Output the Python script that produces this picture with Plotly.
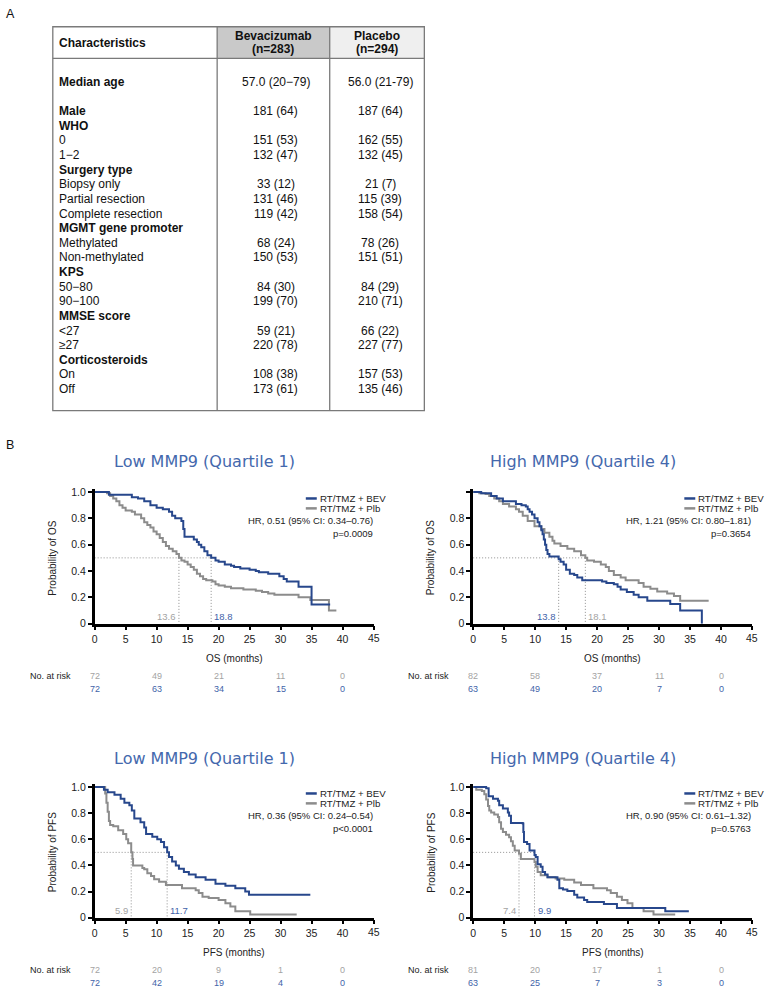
import plotly.graph_objects as go

W, H = 766, 993
def px(x):
    return x / W
def py(y):
    return 1 - y / H

# ---------------- Panel A: baseline characteristics table ----------------
table_header = "Characteristics"
bev_header = ["Bevacizumab", "(n=283)"]
plb_header = ["Placebo", "(n=294)"]
row_labels = ["Median age", "Male", "WHO", "0", "1−2", "Surgery type", "Biopsy only",
              "Partial resection", "Complete resection", "MGMT gene promoter", "Methylated",
              "Non-methylated", "KPS", "50−80", "90−100", "MMSE score", "<27", "≥27",
              "Corticosteroids", "On", "Off"]
bev_values = ["57.0 (20−79)", "181 (64)", "", "151 (53)", "132 (47)", "", "33 (12)", "131 (46)",
              "119 (42)", "", "68 (24)", "150 (53)", "", "84 (30)", "199 (70)", "", "59 (21)",
              "220 (78)", "", "108 (38)", "173 (61)"]
plb_values = ["56.0 (21-79)", "187 (64)", "", "162 (55)", "132 (45)", "", "21 (7)", "115 (39)",
              "158 (54)", "", "78 (26)", "151 (51)", "", "84 (29)", "210 (71)", "", "66 (22)",
              "227 (77)", "", "157 (53)", "135 (46)"]
bold_rows = ["Median age", "Male", "WHO", "Surgery type", "MGMT gene promoter", "KPS",
             "MMSE score", "Corticosteroids"]

# ---------------- Panel B: Kaplan-Meier data ----------------
panel_titles = ["Low MMP9 (Quartile 1)", "High MMP9 (Quartile 4)",
                "Low MMP9 (Quartile 1)", "High MMP9 (Quartile 4)"]
endpoints = ["OS", "OS", "PFS", "PFS"]
hr_texts = ["HR, 0.51 (95% CI: 0.34–0.76)", "HR, 1.21 (95% CI: 0.80–1.81)",
            "HR, 0.36 (95% CI: 0.24–0.54)", "HR, 0.90 (95% CI: 0.61–1.32)"]
p_texts = ["p=0.0009", "p=0.3654", "p<0.0001", "p=0.5763"]
median_bev = [18.8, 13.8, 11.7, 9.9]
median_plb = [13.6, 18.1, 5.9, 7.4]
risk_times = [0, 10, 20, 30, 40]
risk_plb = [[72, 49, 21, 11, 0], [82, 58, 37, 11, 0], [72, 20, 9, 1, 0], [81, 20, 17, 1, 0]]
risk_bev = [[72, 63, 34, 15, 0], [63, 49, 20, 7, 0], [72, 42, 19, 4, 0], [63, 25, 7, 3, 0]]
x_ticks = [0, 5, 10, 15, 20, 25, 30, 35, 40, 45]
y_ticks = [0, 0.2, 0.4, 0.6, 0.8, 1.0]
y_ticklabels = ["0", "0.2", "0.4", "0.6", "0.8", "1.0"]

os_low_bev_t = [0, 2.3, 6.0, 7.0, 8.0, 9.0, 10.0, 11.0, 12.0, 12.5, 13.0, 14.0, 14.3, 14.5, 16.0,
                16.5, 16.8, 17.2, 17.7, 18.2, 18.8, 19.5, 20.0, 21.0, 22.0, 22.5, 23.5, 25.0, 26.0,
                26.5, 28.0, 29.8, 30.5, 31.0, 32.9, 35.0, 38.0]
os_low_bev_s = [1.0, 0.98, 0.96, 0.95, 0.93, 0.90, 0.88, 0.87, 0.85, 0.82, 0.80, 0.78, 0.72, 0.66,
                0.64, 0.62, 0.60, 0.58, 0.55, 0.52, 0.50, 0.48, 0.47, 0.45, 0.44, 0.43, 0.42, 0.41,
                0.40, 0.39, 0.38, 0.36, 0.34, 0.32, 0.28, 0.145, 0.145]
os_low_plb_t = [0, 2.0, 2.5, 3.0, 3.5, 4.0, 4.5, 5.0, 6.0, 6.5, 7.5, 8.0, 8.5, 9.0, 9.5, 10.0, 10.5,
                11.0, 11.5, 12.0, 12.6, 13.2, 13.6, 14.0, 14.5, 15.0, 15.5, 16.0, 16.5, 17.0, 17.5,
                18.0, 19.0, 19.5, 20.0, 21.0, 22.0, 24.0, 26.0, 27.0, 28.0, 29.0, 32.9, 34.8, 37.8, 39.0]
os_low_plb_s = [1.0, 0.99, 0.97, 0.95, 0.93, 0.90, 0.88, 0.86, 0.85, 0.83, 0.80, 0.77, 0.75, 0.73,
                0.70, 0.68, 0.65, 0.62, 0.59, 0.57, 0.55, 0.53, 0.50, 0.48, 0.47, 0.45, 0.43, 0.41,
                0.38, 0.36, 0.34, 0.33, 0.32, 0.30, 0.29, 0.28, 0.27, 0.26, 0.25, 0.24, 0.23, 0.22,
                0.20, 0.18, 0.10, 0.10]

os_high_bev_t = [0, 1.3, 2.9, 3.8, 4.8, 6.9, 7.8, 8.5, 8.8, 9.1, 9.5, 9.9, 10.4, 10.7, 11.0, 11.2,
                 11.4, 11.6, 11.8, 12.0, 12.3, 13.8, 14.1, 14.6, 15.0, 15.6, 16.3, 16.8, 17.6, 20.8,
                 21.5, 22.7, 23.3, 23.8, 24.8, 25.9, 26.7, 28.1, 31.8, 33.4, 36.9]
os_high_bev_s = [1.0, 0.99, 0.97, 0.95, 0.93, 0.91, 0.90, 0.89, 0.87, 0.85, 0.83, 0.80, 0.77, 0.74,
                 0.71, 0.68, 0.64, 0.60, 0.56, 0.53, 0.51, 0.49, 0.47, 0.45, 0.41, 0.38, 0.37, 0.35,
                 0.33, 0.32, 0.31, 0.30, 0.28, 0.26, 0.24, 0.22, 0.20, 0.175, 0.15, 0.10, 0.0]
os_high_plb_t = [0, 1.0, 2.0, 2.6, 3.4, 4.2, 4.8, 5.8, 6.9, 7.4, 8.0, 8.8, 9.9, 11.0, 11.5, 12.3,
                 12.8, 13.1, 14.1, 15.2, 16.3, 17.4, 18.1, 18.4, 19.5, 20.6, 21.4, 21.9, 22.7, 23.8,
                 24.6, 26.7, 27.5, 28.6, 29.7, 31.3, 32.4, 33.4, 38.0]
os_high_plb_s = [1.0, 0.99, 0.985, 0.97, 0.95, 0.93, 0.91, 0.89, 0.87, 0.85, 0.82, 0.78, 0.74, 0.72,
                 0.69, 0.66, 0.63, 0.61, 0.59, 0.57, 0.55, 0.52, 0.50, 0.48, 0.47, 0.45, 0.43, 0.40,
                 0.37, 0.35, 0.33, 0.31, 0.28, 0.265, 0.245, 0.23, 0.21, 0.175, 0.175]

pfs_low_bev_t = [0, 1.5, 2.1, 3.2, 4.2, 4.8, 5.6, 6.0, 6.4, 7.4, 8.0, 8.3, 9.3, 10.1, 10.7, 11.2,
                 11.7, 12.0, 12.5, 13.1, 13.6, 14.4, 15.2, 16.3, 17.9, 19.5, 21.1, 22.7, 24.3, 24.9,
                 34.8]
pfs_low_bev_s = [1.0, 0.98, 0.96, 0.94, 0.91, 0.88, 0.86, 0.82, 0.76, 0.73, 0.69, 0.64, 0.62, 0.60,
                 0.58, 0.54, 0.50, 0.465, 0.43, 0.40, 0.375, 0.35, 0.33, 0.31, 0.29, 0.26, 0.245,
                 0.225, 0.20, 0.175, 0.175]
pfs_low_plb_t = [0, 1.7, 1.9, 2.1, 2.3, 2.5, 3.0, 3.8, 4.6, 5.1, 5.4, 5.9, 6.1, 6.2, 7.7, 8.0, 8.5,
                 9.1, 9.6, 10.4, 11.5, 14.1, 16.3, 16.8, 17.4, 18.4, 20.0, 21.1, 21.9, 22.7, 25.1,
                 32.6]
pfs_low_plb_s = [1.0, 0.95, 0.88, 0.81, 0.74, 0.71, 0.70, 0.67, 0.64, 0.60, 0.57, 0.50, 0.45, 0.40,
                 0.38, 0.37, 0.34, 0.32, 0.295, 0.275, 0.25, 0.225, 0.21, 0.19, 0.16, 0.15, 0.135,
                 0.11, 0.085, 0.05, 0.025, 0.025]

pfs_high_bev_t = [0, 2.1, 2.5, 3.2, 4.0, 4.2, 4.8, 5.6, 5.8, 6.1, 8.0, 8.1, 8.2, 8.7, 9.1, 9.9,
                  10.1, 10.4, 10.9, 11.2, 11.6, 12.0, 13.6, 13.9, 14.5, 15.2, 16.3, 16.8, 17.9,
                  18.4, 21.1, 23.2, 31.0, 34.8]
pfs_high_bev_s = [1.0, 0.99, 0.93, 0.91, 0.895, 0.86, 0.835, 0.805, 0.78, 0.725, 0.72, 0.655, 0.58,
                  0.565, 0.515, 0.48, 0.465, 0.41, 0.39, 0.35, 0.33, 0.31, 0.29, 0.225, 0.215,
                  0.205, 0.175, 0.155, 0.135, 0.12, 0.105, 0.075, 0.05, 0.05]
pfs_high_plb_t = [0, 0.5, 1.4, 1.8, 2.1, 2.4, 2.6, 2.9, 3.4, 4.0, 4.2, 4.5, 4.8, 5.3, 5.8, 6.1, 6.4,
                  6.7, 7.4, 7.7, 9.9, 10.1, 10.4, 10.9, 12.0, 13.3, 14.7, 16.3, 17.4, 19.4, 21.6,
                  22.2, 23.2, 24.0, 24.9, 25.7, 27.5, 29.1, 32.6]
pfs_high_plb_s = [1.0, 0.98, 0.97, 0.945, 0.905, 0.855, 0.82, 0.805, 0.79, 0.77, 0.73, 0.68, 0.655,
                  0.635, 0.615, 0.585, 0.55, 0.515, 0.49, 0.45, 0.427, 0.39, 0.35, 0.325, 0.31,
                  0.30, 0.29, 0.27, 0.25, 0.225, 0.21, 0.19, 0.16, 0.135, 0.11, 0.075, 0.05, 0.025,
                  0.025]

curves_bev = [(os_low_bev_t, os_low_bev_s), (os_high_bev_t, os_high_bev_s),
              (pfs_low_bev_t, pfs_low_bev_s), (pfs_high_bev_t, pfs_high_bev_s)]
curves_plb = [(os_low_plb_t, os_low_plb_s), (os_high_plb_t, os_high_plb_s),
              (pfs_low_plb_t, pfs_low_plb_s), (pfs_high_plb_t, pfs_high_plb_s)]

# ---------------- styling ----------------
BEV = "#27478c"
PLB = "#8c8c8c"
BEV_TXT = "#3f63a9"
PLB_TXT = "#a3a3a3"
TITLE_C = "#4468ad"
ARIAL = "Liberation Sans, Arial, sans-serif"
VERD = "DejaVu Sans, Verdana, sans-serif"

# pixel geometry of the four plot areas
ax_x0 = [92, 472, 92, 472]
ax_x1 = [372, 752, 372, 752]
zero_y = [626, 626, 923, 923]
unit_px = [133, 133, 132, 132]
YMAX = 1.02

fig = go.Figure()
shapes = []
ann = []

# ---- table drawing ----
T_L, T_R, T_T, T_B = 50, 423, 23, 410.7
C1, C2 = 215, 328
HDR_B = 55
shapes.append(dict(type="rect", xref="paper", yref="paper", x0=px(C1), x1=px(C2), y0=py(HDR_B), y1=py(T_T),
                   fillcolor="#c9c9c9", line=dict(width=0), layer="below"))
shapes.append(dict(type="rect", xref="paper", yref="paper", x0=px(C2), x1=px(T_R), y0=py(HDR_B), y1=py(T_T),
                   fillcolor="#efefef", line=dict(width=0), layer="below"))
shapes.append(dict(type="rect", xref="paper", yref="paper", x0=px(T_L), x1=px(T_R), y0=py(T_B), y1=py(T_T),
                   line=dict(color="#7a7a7a", width=1.3)))
shapes.append(dict(type="line", xref="paper", yref="paper", x0=px(T_L), x1=px(T_R), y0=py(HDR_B), y1=py(HDR_B),
                   line=dict(color="#7a7a7a", width=1.3)))
for cx in (C1, C2):
    shapes.append(dict(type="line", xref="paper", yref="paper", x0=px(cx), x1=px(cx), y0=py(T_B), y1=py(T_T),
                       line=dict(color="#7a7a7a", width=1.3)))

def tann(text, x, y, anchor="left", bold=False, size=12, color="#111"):
    t = text.replace("<", "&lt;")
    if bold:
        t = "<b>" + t + "</b>"
    ann.append(dict(text=t, x=px(x), y=py(y), xref="paper", yref="paper", xanchor=anchor, yanchor="middle",
                    showarrow=False, borderpad=0, borderwidth=0,
                    font=dict(family=ARIAL, size=size, color=color)))

tann("A", 3, 10, size=12.5)
tann("B", 3, 445.5, size=12.5)
tann(table_header, 56.5, 39, bold=True)
tann(bev_header[0], 271.5, 32, anchor="center", bold=True)
tann(bev_header[1], 271.5, 45.5, anchor="center", bold=True)
tann(plb_header[0], 375.5, 32, anchor="center", bold=True)
tann(plb_header[1], 375.5, 45.5, anchor="center", bold=True)
for i, lab in enumerate(row_labels):
    yy = 79 if i == 0 else 108.3 + (i - 1) * 14.77
    tann(lab, 56.5, yy, bold=lab in bold_rows)
    if bev_values[i]:
        tann(bev_values[i], 274, yy, anchor="center")
    if plb_values[i]:
        tann(plb_values[i], 378.5, yy, anchor="center")

# ---- KM panels ----
layout_axes = {}
for k in range(4):
    xa = "x" if k == 0 else f"x{k+1}"
    ya = "y" if k == 0 else f"y{k+1}"
    xn = "xaxis" if k == 0 else f"xaxis{k+1}"
    yn = "yaxis" if k == 0 else f"yaxis{k+1}"
    x0, x1, y0, u = ax_x0[k], ax_x1[k], zero_y[k], unit_px[k]
    ytop = y0 - u * YMAX
    ylabels = list(y_ticklabels)
    if k == 1:
        ylabels[-1] = ""
    layout_axes[xn] = dict(domain=[px(x0), px(x1)], range=[0, 45], anchor=ya, tickvals=x_ticks,
                           ticktext=[str(v) if v != 45 else "" for v in x_ticks],
                           showline=True, linecolor="black", linewidth=2.5, ticks="outside", ticklen=4,
                           tickwidth=2, tickcolor="black", showgrid=False, zeroline=False,
                           tickfont=dict(family=ARIAL, size=10.5, color="#222"))
    layout_axes[yn] = dict(domain=[py(y0), py(ytop)], range=[0, YMAX], anchor=xa, tickvals=y_ticks,
                           ticktext=ylabels, showline=True, linecolor="black", linewidth=2.5,
                           ticks="outside", ticklen=4, tickwidth=2, tickcolor="black", showgrid=False,
                           zeroline=False, tickfont=dict(family=ARIAL, size=10.5, color="#222"))

    mb, mp = median_bev[k], median_plb[k]
    mx = max(mb, mp)
    fig.add_trace(go.Scatter(x=[0, mx, None, mp, mp, None, mb, mb], y=[0.5, 0.5, None, 0.5, 0, None, 0.5, 0],
                             mode="lines", line=dict(color="#8f8f8f", width=1, dash="1px,2px"),
                             xaxis=xa, yaxis=ya, showlegend=False, hoverinfo="skip"))
    pt, ps = curves_plb[k]
    bt, bs = curves_bev[k]
    fig.add_trace(go.Scatter(x=pt, y=ps, mode="lines", line=dict(color=PLB, width=2, shape="hv"),
                             xaxis=xa, yaxis=ya, name="RT/TMZ + Plb", showlegend=False))
    fig.add_trace(go.Scatter(x=bt, y=bs, mode="lines", line=dict(color=BEV, width=2, shape="hv"),
                             xaxis=xa, yaxis=ya, name="RT/TMZ + BEV", showlegend=False))

    # median labels
    for m, col in ((mb, BEV_TXT), (mp, PLB_TXT)):
        left = m < mx
        ann.append(dict(text=f"{m:.1f}", x=m, y=0.055, xref=xa, yref=ya,
                        xanchor="right" if left else "left", yanchor="middle",
                        xshift=-3 if left else 3, showarrow=False, borderpad=0, borderwidth=0,
                        font=dict(family=ARIAL, size=9.5, color=col)))

    # title
    tann(panel_titles[k], (x0 + x1) / 2 - 30, y0 - (626 - 462) if k < 2 else y0 - (923 - 762.3),
         anchor="center", size=16, color=TITLE_C)
    ann[-1]["font"]["family"] = VERD
    # axis titles
    ann.append(dict(text=f"Probability of {endpoints[k]}", x=px(x0 - 42), y=py(y0 - u * 0.5),
                    xref="paper", yref="paper", textangle=-90, xanchor="center", yanchor="middle",
                    showarrow=False, font=dict(family=ARIAL, size=10, color="#222")))
    tann(f"{endpoints[k]} (months)", (x0 + x1) / 2, y0 + 35, anchor="center", size=10, color="#222")
    # 45 label, slightly lower
    ann.append(dict(text="45", x=45, y=py(y0 + 14), xref=xa, yref="paper", xanchor="center",
                    yanchor="middle", showarrow=False, font=dict(family=ARIAL, size=10.5, color="#222")))

    # legend
    ly1, ly2 = y0 - u + 6.5, y0 - u + 16.5
    for ly, col, lab in ((ly1, BEV, "RT/TMZ + BEV"), (ly2, PLB, "RT/TMZ + Plb")):
        shapes.append(dict(type="line", xref="paper", yref="paper", x0=px(x0 + 212), x1=px(x0 + 223),
                           y0=py(ly), y1=py(ly), line=dict(color=col, width=2.5)))
        tann(lab, x0 + 226, ly, size=9.7, color="#222")
    tann(hr_texts[k], x1 - 1, y0 - u + 29, anchor="right", size=9.5, color="#222")
    tann(p_texts[k], x1 - 1, y0 - u + 41.5, anchor="right", size=9.5, color="#222")

    # number at risk
    ry1, ry2 = y0 + 53, y0 + 66
    tann("No. at risk", x0 - 65, ry1, size=9, color="#222")
    for t, vp, vb in zip(risk_times, risk_plb[k], risk_bev[k]):
        ann.append(dict(text=str(vp), x=t, y=py(ry1), xref=xa, yref="paper", xanchor="center",
                        yanchor="middle", showarrow=False, font=dict(family=ARIAL, size=9, color=PLB_TXT)))
        ann.append(dict(text=str(vb), x=t, y=py(ry2), xref=xa, yref="paper", xanchor="center",
                        yanchor="middle", showarrow=False, font=dict(family=ARIAL, size=9, color=BEV_TXT)))

fig.update_layout(width=W, height=H, margin=dict(l=0, r=0, t=0, b=0), paper_bgcolor="white",
                  plot_bgcolor="white", shapes=shapes, annotations=ann, showlegend=False,
                  font=dict(family=ARIAL), **layout_axes)
fig.write_html("out.html", config={"displayModeBar": False},
               post_script="document.body.style.margin='0px';document.body.style.overflow='hidden';")
